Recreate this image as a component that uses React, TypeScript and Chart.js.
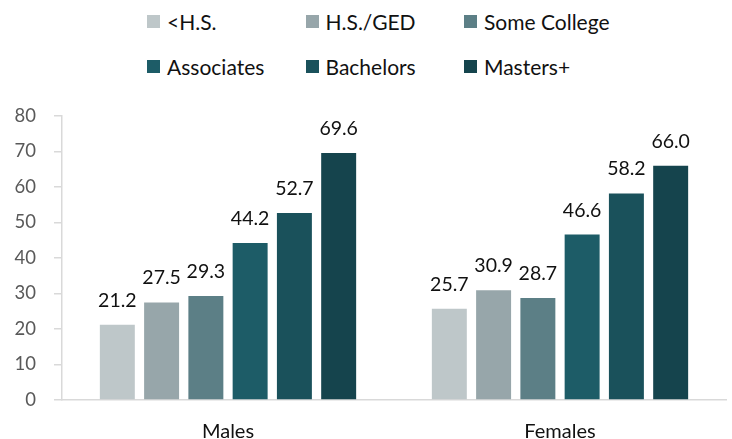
import React, { useEffect, useRef } from "react";
import { Chart, registerables } from "chart.js";

Chart.register(...registerables);

const categories = ["Males", "Females"];
const seriesNames = ["<H.S.", "H.S./GED", "Some College", "Associates", "Bachelors", "Masters+"];
const seriesColors = ["#BEC7C9", "#97A6AA", "#5C7F86", "#1D5C67", "#1A515B", "#15444D"];
const lessThanHS = [21.2, 25.7];
const hsGed = [27.5, 30.9];
const someCollege = [29.3, 28.7];
const associates = [44.2, 46.6];
const bachelors = [52.7, 58.2];
const mastersPlus = [69.6, 66.0];
const seriesValues = [lessThanHS, hsGed, someCollege, associates, bachelors, mastersPlus];
const yMin = 0;
const yMax = 80;
const yStep = 10;

const FONT = "Lato, 'Open Sans', sans-serif";

const valueLabels = {
  id: "valueLabels",
  afterDatasetsDraw(chart: any) {
    const ctx = chart.ctx;
    ctx.save();
    ctx.font = `19.5px ${FONT}`;
    ctx.fillStyle = "#111111";
    ctx.textAlign = "center";
    ctx.textBaseline = "alphabetic";
    chart.data.datasets.forEach((ds: any, di: number) => {
      const meta = chart.getDatasetMeta(di);
      meta.data.forEach((el: any, i: number) => {
        const v = ds.data[i];
        ctx.fillText(Number(v).toFixed(1), el.x, el.y - 18);
      });
    });
    ctx.restore();
  },
};

export default function App() {
  const canvasRef = useRef<HTMLCanvasElement | null>(null);

  useEffect(() => {
    if (!canvasRef.current) return;
    const chart = new Chart(canvasRef.current, {
      type: "bar",
      data: {
        labels: categories,
        datasets: seriesNames.map((name, i) => ({
          label: name,
          data: seriesValues[i],
          backgroundColor: seriesColors[i],
          borderWidth: 0,
          categoryPercentage: 0.8,
          barPercentage: 0.79,
        })),
      },
      options: {
        responsive: false,
        animation: false,
        devicePixelRatio: 1,
        layout: { padding: { top: 116, right: 6, left: 0, bottom: 0 } },
        plugins: {
          legend: { display: false },
          tooltip: { enabled: false },
        },
        scales: {
          x: {
            grid: { display: false, drawTicks: false },
            border: { color: "#D9D9D9", width: 1.5 },
            ticks: { font: { family: FONT, size: 20 }, color: "#111111", padding: 20 },
            afterFit: (s: any) => {
              s.height = 39;
            },
          },
          y: {
            min: yMin,
            max: yMax,
            grid: { display: true, drawOnChartArea: false, drawTicks: true, tickLength: 8, color: "#D9D9D9", lineWidth: 1.5 },
            border: { color: "#D9D9D9", width: 1.5 },
            ticks: { stepSize: yStep, font: { family: FONT, size: 18.5 }, color: "#595959", padding: 18 },
            afterFit: (s: any) => {
              s.width = 62;
            },
          },
        },
      },
      plugins: [valueLabels],
    });
    return () => chart.destroy();
  }, []);

  return (
    <div style={{ position: "absolute", left: 0, top: 0, width: 732, height: 439, background: "#fff", fontFamily: FONT }}>
      {seriesNames.map((name, i) => (
        <div
          key={name}
          style={{
            position: "absolute",
            left: 147 + (i % 3) * 158.5,
            top: 8 + Math.floor(i / 3) * 45,
            height: 26,
            display: "flex",
            alignItems: "center",
            whiteSpace: "nowrap",
            fontSize: 21,
            color: "#111111",
          }}
        >
          <span style={{ display: "inline-block", width: 13, height: 13, background: seriesColors[i], marginRight: 7 }} />
          <span>{name}</span>
        </div>
      ))}
      <canvas ref={canvasRef} width={732} height={439} style={{ position: "absolute", left: 0, top: 0, width: 732, height: 439 }} />
    </div>
  );
}
